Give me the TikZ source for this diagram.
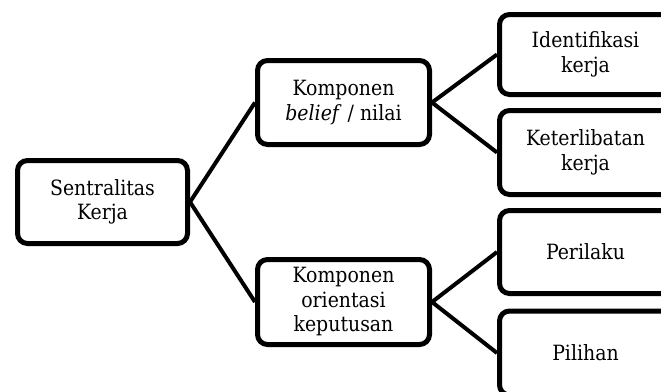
\documentclass[tikz,border=0pt]{standalone}
\usepackage{fontspec}
\setmainfont{DejaVu Serif Condensed}
\begin{document}
\begin{tikzpicture}[x=1pt,y=-1pt,
  box/.style={draw=black,line width=5pt,rounded corners=10pt,align=center,
    inner sep=0pt,minimum width=172pt,
    font=\fontsize{21}{24.5}\selectfont},
  link/.style={draw=black,line width=4pt}]
\useasboundingbox (0,0) rectangle (661,391);
\clip (0,0) rectangle (661,391);
\node[box,minimum width=170pt,minimum height=83pt] (sent) at (102.5,202) {Sentralitas\\Kerja};
\node[box,minimum height=84pt] (bel) at (343.5,102.5) {Komponen\\\textit{belief} / nilai};
\node[box,minimum height=85pt] (ori) at (343.5,302) {Komponen\\orientasi\\keputusan};
\node[box,minimum height=80pt] (idf) at (585.5,54.5) {Identifikasi\\kerja};
\node[box,minimum height=84pt] (ket) at (585.5,152.5) {Keterlibatan\\kerja};
\node[box,minimum height=83pt] (per) at (585.5,252) {Perilaku};
\node[box,minimum height=84pt] (pil) at (585.5,353) {Pilihan};
\draw[link] (sent.east) -- (bel.west);
\draw[link] (sent.east) -- (ori.west);
\draw[link] (bel.east) -- (idf.west);
\draw[link] (bel.east) -- (ket.west);
\draw[link] (ori.east) -- (per.west);
\draw[link] (ori.east) -- (pil.west);
\end{tikzpicture}
\end{document}
